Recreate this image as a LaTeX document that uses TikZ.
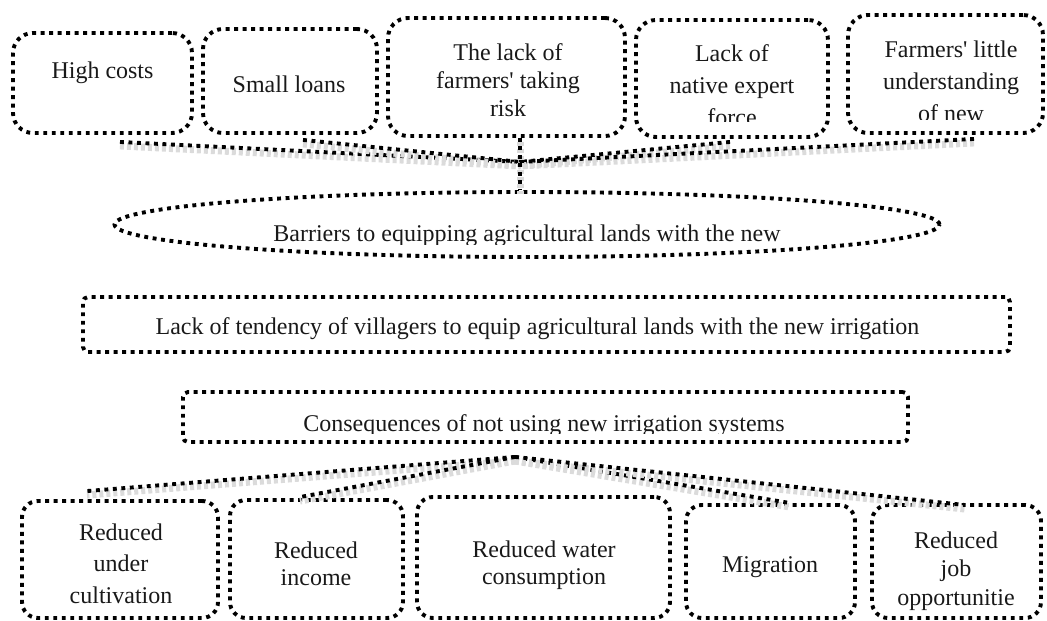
\documentclass[tikz,border=0pt]{standalone}
\usepackage{fontspec}
\setmainfont{Liberation Serif}[Ligatures=TeXOff]
\usetikzlibrary{calc,shapes.geometric}
\newcommand\boxtext[2]{{\fontsize{24}{#1}\selectfont\begin{tabular}[t]{@{}c@{}}#2\end{tabular}}}
\begin{document}
\begin{tikzpicture}[x=1pt,y=-1pt,
  dotline/.style={line width=3.9pt, dash pattern=on 3.9pt off 4.6pt},
  topbox/.style={draw, dotline, rounded corners=20pt, inner sep=0pt},
  midbox/.style={draw, dotline, rounded corners=5pt, inner sep=0pt},
  botbox/.style={draw, dotline, rounded corners=16pt, inner sep=0pt},
  oval/.style={draw, dotline, ellipse, inner sep=0pt},
  lbl/.style={anchor=base, inner sep=0pt, text=black!90},
  link/.style={dotline, preaction={draw=black!14, line width=7pt, dash pattern=on 4pt off 3pt, transform canvas={yshift=-4pt}}},
]
\useasboundingbox (0,0) rectangle (1047,621);

% top boxes
\node[topbox, minimum width=179, minimum height=100] (t1) at (102.5,83) {};
\node[topbox, minimum width=174, minimum height=104] (t2) at (290,81) {};
\node[topbox, minimum width=237, minimum height=118] (t3) at (506.5,77) {};
\node[topbox, minimum width=192, minimum height=117] (t4) at (732,78.5) {};
\node[topbox, minimum width=195, minimum height=118] (t5) at (945.5,74) {};

\node[lbl] (t1x) at (102.5,78) {\boxtext{28}{High costs}};
\node[lbl] (t2x) at (289,92) {\boxtext{28}{Small loans}};
\node[lbl] (t3x) at (508,60) {\boxtext{28}{The lack of\\farmers' taking\\risk}};
\begin{scope}
  \clip (t4.north west) rectangle ($(t4.south east)+(0,-17)$);
  \node[lbl] (t4x) at (732,61) {\boxtext{32}{Lack of\\native expert\\force}};
\end{scope}
\begin{scope}
  \clip (t5.north west) rectangle ($(t5.south east)+(0,-15)$);
  \node[lbl] (t5x) at (951,57) {\boxtext{32}{Farmers' little\\understanding\\of new}};
\end{scope}

% ellipse
\node[oval, minimum width=825, minimum height=65] (e) at (527,224.5) {};
\begin{scope}
  \clip (e.north -| e.west) rectangle ($(e.south -| e.east)+(0,-14)$);
  \node[lbl] (ex) at (527,241) {\boxtext{28}{Barriers to equipping agricultural lands with the new}};
\end{scope}

% middle boxes
\node[midbox, minimum width=927, minimum height=55] (m1) at (546.5,324.5) {};
\node[lbl] (m1x) at (537.5,334) {\boxtext{28}{Lack of tendency of villagers to equip agricultural lands with the new irrigation}};
\node[midbox, minimum width=725, minimum height=50] (m2) at (545.5,417) {};
\begin{scope}
  \clip (m2.north west) rectangle ($(m2.south east)+(0,-10)$);
  \node[lbl] (m2x) at (544,431) {\boxtext{28}{Consequences of not using new irrigation systems}};
\end{scope}

% bottom boxes
\node[botbox, minimum width=196, minimum height=117] (b1) at (120,559.5) {};
\node[botbox, minimum width=173, minimum height=118] (b2) at (316.5,559) {};
\node[botbox, minimum width=253, minimum height=121] (b3) at (543.5,557.5) {};
\node[botbox, minimum width=169, minimum height=113] (b4) at (770.5,561.5) {};
\node[botbox, minimum width=169, minimum height=113] (b5) at (956.5,561.5) {};

\node[lbl] (b1x) at (121,540) {\boxtext{31.5}{Reduced\\under\\cultivation}};
\node[lbl] (b2x) at (316,558) {\boxtext{27}{Reduced\\income}};
\node[lbl] (b3x) at (544,557) {\boxtext{27}{Reduced water\\consumption}};
\node[lbl] (b4x) at (770,572) {\boxtext{28}{Migration}};
\node[lbl] (b5x) at (956,548) {\boxtext{28.5}{Reduced\\job\\opportunitie}};

% top connectors
\coordinate (J) at ($(t3.south)+(13.5,24)$);
\draw[link] ($(t1.south)+(17.5,7)$) -- (J);
\draw[link] ($(t2.south)+(13,5)$) -- (J);
\draw[link] ($(t4.south)+(-2,3)$) -- (J);
\draw[link] ($(t5.south)+(28.5,4)$) -- (J);
\draw[link] ($(t3.south)+(13.5,0)$) -- (J) -- (J |- e.north);

% bottom connectors
\coordinate (A) at ($(m2.south)+(-30.5,13)$);
\draw[link] (A) -- ($(b1.north)+(-33,-8)$);
\draw[link] (A) -- ($(b2.north)+(-16.5,-1)$);
\draw[link] (A) -- ($(b4.north)+(19.5,0)$);
\draw[link] (A) -- ($(b5.north)+(8.5,2)$);
\end{tikzpicture}
\end{document}
